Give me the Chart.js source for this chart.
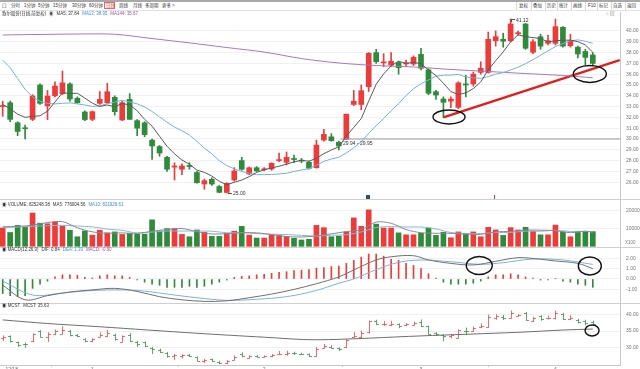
<!DOCTYPE html>
<html lang="zh-CN">
<head>
<meta charset="utf-8">
<title>歌尔股份 日线</title>
<script src="https://cdn.jsdelivr.net/npm/chart.js@4.4.1/dist/chart.umd.min.js"></script>
<style>
  body { margin: 0; width: 640px; height: 369px; overflow: hidden; background: #fff; position: relative;
         font-family: "Liberation Sans", "Noto Sans CJK SC", sans-serif; }
  canvas { position: absolute; left: 0; }
  .t { position: absolute; font-size: 6px; line-height: 7px; white-space: nowrap; color: #333;
       transform: scale(0.74); transform-origin: 0 0; }
  .t i { font-style: normal; margin-left: 4px; }
  .hr { position: absolute; left: 0; width: 640px; height: 1px; background: #d0d0d0; }
  .sep { position: absolute; top: 2px; width: 1px; height: 8px; background: #d8d8d8; }
</style>
</head>
<body>
<canvas id="cPrice" width="640" height="187" style="top:12px"></canvas>
<canvas id="cVol" width="640" height="48" style="top:199px"></canvas>
<canvas id="cMacd" width="640" height="56" style="top:247px"></canvas>
<canvas id="cMcst" width="640" height="74" style="top:303px"></canvas>

<div style="position:absolute;left:0;top:0;width:640px;height:2px;background:#a8a8a8"></div>
<div class="hr" style="top:10px;background:#e2e2e2"></div>
<div class="hr" style="top:199px"></div>
<div class="hr" style="top:247px"></div>
<div class="hr" style="top:303px"></div>

<!-- period toolbar -->
<span class="t" style="left:2px;top:3px">口</span>
<span class="t" style="left:11px;top:3px">分时</span>
<span class="t" style="left:24px;top:3px">1分钟</span>
<span class="t" style="left:38px;top:3px">5分钟</span>
<span class="t" style="left:53px;top:3px">15分钟</span>
<span class="t" style="left:72px;top:3px">30分钟</span>
<span class="t" style="left:89px;top:3px">60分钟</span>
<div style="position:absolute;left:104px;top:2px;width:11px;height:7px;border:1px solid #e66;box-sizing:border-box"></div>
<span class="t" style="left:105.5px;top:3px;color:#e33">日线</span>
<span class="t" style="left:119px;top:3px">周线</span>
<span class="t" style="left:133px;top:3px">月线</span>
<span class="t" style="left:145px;top:3px">多周期</span>
<span class="t" style="left:162px;top:3px">更多 &gt;</span>

<div class="sep" style="left:516px"></div><span class="t" style="left:519px;top:3px">复权</span>
<div class="sep" style="left:531px"></div><span class="t" style="left:533px;top:3px">叠加</span>
<div class="sep" style="left:545px"></div><span class="t" style="left:547px;top:3px">历史</span>
<div class="sep" style="left:557px"></div><span class="t" style="left:559px;top:3px">统计</span>
<div class="sep" style="left:571px"></div><span class="t" style="left:573px;top:3px">画线</span>
<div class="sep" style="left:585px"></div><span class="t" style="left:588px;top:3px">F10</span>
<div class="sep" style="left:597px"></div><span class="t" style="left:599px;top:3px">标记</span>
<div class="sep" style="left:611px"></div><span class="t" style="left:613px;top:3px">自选</span>
<div class="sep" style="left:625px"></div><span class="t" style="left:627px;top:3px">返回</span>

<!-- panel legends -->
<span class="t" style="left:2px;top:11px">歌尔股份(日线,前复权)<i style="color:#555">◉</i><i>MA5: 37.84</i><i style="color:#3d8fd1">MA13: 38.95</i><i style="color:#a050a8">MA144: 35.67</i></span>
<span class="t" style="left:606px;top:11px;color:#888">○ 回</span>

<span class="t" style="left:2px;top:202px">◉ VOLUME: 825248.38<i>MA5: 776004.56</i><i style="color:#3d8fd1">MA10: 821926.61</i></span>
<span class="t" style="left:625px;top:240px;color:#777">X100</span>

<span class="t" style="left:2px;top:247px">◉ MACD(12,26,9)<i>DIF: 0.84</i><i style="color:#3d8fd1">DEA: 1.39</i><i style="color:#a050a8">MACD: -0.90</i></span>

<span class="t" style="left:2px;top:303px">◉ MCST<i>MCST: 35.63</i></span>

<div style="position:absolute;left:366px;top:195px;width:4px;height:4px;background:#35506e"></div>
<div style="position:absolute;left:494px;top:195px;width:1px;height:4px;background:#e33"></div>

<script>
// ---- data ----
const opens = [33.0, 33.36, 31.5, 31.0, 31.82, 35.0, 33.06, 34.0, 34.2, 35.1,
  33.77, 32.5, 31.82, 33.3, 33.36, 33.86, 31.76, 33.67, 31.7, 31.5,
  29.9, 29.3, 28.3, 27.4, 27.2, 27.55, 26.9, 25.83, 26.27, 25.6,
  25.05, 26.2, 28.0, 26.76, 27.34, 27.15, 27.22, 28.0, 27.84, 28.2,
  28.0, 27.84, 27.34, 29.9, 30.2, 29.7, 29.97, 33.2, 33.2, 34.84,
  38.0, 37.05, 36.85, 37.07, 36.95, 36.94, 37.84, 36.4, 34.38, 33.7,
  33.5, 32.93, 35.1, 35.1, 36.17, 36.17, 39.1, 39.23, 39.1, 39.75,
  40.65, 38.03, 39.47, 38.86, 38.86, 40.34, 38.64, 38.5, 38.1, 37.78];
const highs = [33.5, 33.5, 31.6, 31.3, 34.1, 35.1, 34.5, 35.3, 36.3, 35.2,
  33.9, 32.6, 32.6, 34.4, 35.15, 34.0, 33.5, 34.2, 31.8, 31.6,
  30.0, 29.4, 28.4, 27.8, 27.7, 27.8, 27.0, 26.3, 26.4, 25.7,
  25.95, 27.35, 28.3, 27.4, 27.45, 27.35, 27.8, 28.7, 28.8, 28.5,
  28.2, 27.95, 29.9, 30.9, 30.5, 29.8, 32.3, 34.5, 35.0, 38.0,
  38.3, 37.9, 38.0, 37.2, 37.3, 37.7, 38.4, 36.5, 34.5, 33.9,
  33.9, 35.3, 35.9, 36.2, 37.15, 39.9, 40.0, 39.8, 41.12, 40.0,
  40.7, 39.2, 39.7, 39.6, 41.1, 40.4, 39.7, 38.6, 38.3, 38.0];
const lows = [32.1, 31.6, 30.3, 30.0, 31.7, 33.2, 31.8, 33.9, 34.1, 33.5,
  33.3, 31.7, 31.7, 33.2, 33.3, 32.2, 31.7, 31.8, 30.3, 30.2,
  28.1, 28.4, 27.0, 26.2, 26.7, 27.2, 25.9, 25.35, 25.7, 25.03,
  25.0, 26.1, 27.1, 26.7, 27.0, 27.05, 27.1, 27.9, 27.6, 27.8,
  27.8, 27.2, 27.3, 29.8, 29.8, 29.0, 29.95, 33.1, 32.7, 34.4,
  37.0, 36.7, 36.7, 36.0, 36.7, 36.8, 36.4, 34.1, 33.67, 32.0,
  32.9, 32.8, 33.9, 34.9, 36.0, 36.1, 38.6, 38.5, 39.0, 39.6,
  38.3, 37.9, 38.3, 38.7, 38.7, 38.5, 38.5, 37.5, 36.85, 36.8];
const closes = [33.05, 31.82, 30.7, 30.95, 33.98, 33.3, 33.98, 34.9, 35.2, 33.7,
  33.36, 31.8, 32.53, 33.67, 34.38, 32.53, 33.36, 31.82, 31.0, 30.4,
  29.35, 28.7, 27.2, 27.5, 27.5, 27.45, 25.95, 26.14, 25.83, 25.06,
  25.9, 27.04, 27.2, 27.34, 27.04, 27.2, 27.75, 28.05, 28.3, 28.1,
  27.95, 27.29, 29.44, 30.43, 29.84, 29.35, 32.3, 33.5, 34.47, 37.93,
  37.16, 37.1, 37.2, 36.6, 37.0, 37.56, 36.55, 34.23, 34.07, 33.4,
  33.7, 35.2, 35.0, 36.0, 36.55, 39.23, 39.47, 39.05, 40.65, 39.85,
  38.4, 39.0, 38.6, 39.1, 40.4, 38.6, 39.1, 37.87, 37.56, 37.0];

const ma5 = [33.2, 32.8, 32.3, 32.0, 32.1, 32.15, 32.58, 33.42, 34.27, 34.22,
  34.23, 33.79, 33.32, 33.01, 33.15, 32.98, 33.29, 33.15, 32.62, 31.82,
  31.19, 30.25, 29.33, 28.63, 28.05, 27.67, 27.12, 26.91, 26.57, 26.08,
  25.77, 25.99, 26.2, 26.51, 26.9, 27.16, 27.31, 27.48, 27.67, 27.88,
  28.03, 27.94, 28.22, 28.64, 28.99, 29.27, 30.27, 31.08, 31.89, 33.51,
  35.07, 36.03, 36.77, 37.2, 37.01, 37.09, 36.98, 36.39, 35.88, 35.16,
  34.39, 34.12, 34.27, 34.66, 35.29, 36.4, 37.25, 38.06, 38.99, 39.65,
  39.48, 39.39, 39.3, 38.99, 39.1, 39.14, 39.16, 39.01, 38.71, 38.03];
const ma13 = [37.3, 36.6, 35.6, 34.6, 33.9, 33.5, 33.3, 33.25, 33.3, 33.35,
  33.25, 33.15, 33.02, 33.07, 33.27, 33.41, 33.59, 33.43, 33.25, 32.97,
  32.55, 32.05, 31.55, 31.1, 30.76, 30.37, 29.78, 29.15, 28.63, 27.99,
  27.54, 27.23, 26.99, 26.83, 26.7, 26.7, 26.72, 26.76, 26.83, 27.0,
  27.13, 27.25, 27.58, 27.93, 28.15, 28.31, 28.7, 29.19, 29.75, 30.53,
  31.24, 31.91, 32.61, 33.28, 34.02, 34.65, 35.12, 35.46, 35.82, 35.91,
  35.92, 35.98, 35.75, 35.66, 35.62, 35.78, 36.0, 36.15, 36.39, 36.65,
  36.97, 37.35, 37.75, 38.16, 38.56, 38.84, 39.08, 39.18, 39.05, 38.86];
const ma144 = [[0, 39.63], [5, 39.68], [10, 39.72], [15, 39.7], [20, 39.3], [25, 38.9],
  [30, 38.47], [35, 38.05], [40, 37.45], [45, 37.04], [50, 36.8], [55, 36.67],
  [60, 36.44], [65, 36.25], [70, 36.06], [75, 35.88], [79, 35.67]];

// volume in x100 shares
const volumes = [10270, 7760, 11750, 10650, 18690, 13000, 12670, 13550, 11370, 9020,
  5360, 8630, 6280, 9020, 7540, 8090, 6670, 7210, 6830, 6830,
  14860, 8630, 9950, 9950, 6670, 5360, 9180, 7920, 5570, 5570,
  7210, 8470, 11200, 6280, 4640, 4640, 6280, 6280, 5570, 4480,
  3550, 3930, 11750, 10490, 5360, 5740, 8090, 15960, 11200, 20490,
  12460, 10270, 10270, 7540, 6450, 6450, 7380, 10270, 6120, 7920,
  4810, 8090, 7210, 8090, 5360, 10650, 9180, 6120, 10490, 9180,
  10650, 8470, 6450, 6450, 11910, 8090, 5360, 8470, 8470, 8250];
const volMa5 = [[0, 11000], [2, 11200], [4, 11824], [6, 13352], [8, 13856], [10, 10394],
  [12, 8132], [14, 7366], [16, 7520], [18, 7268], [20, 8480], [22, 9420], [24, 10012],
  [26, 8222], [28, 6940], [30, 7090], [32, 7604], [34, 7560], [36, 6608], [38, 5482],
  [40, 5232], [42, 5856], [44, 7016], [46, 8286], [48, 9270], [50, 13640], [52, 12938],
  [54, 9398], [56, 7618], [58, 7334], [60, 7300], [62, 6830], [64, 6712], [66, 8098],
  [68, 8360], [70, 9124], [72, 9048], [74, 8786], [76, 7652], [78, 8460], [79, 7760]];
const volMa10 = [[0, 10500], [4, 11200], [8, 11800], [10, 11382], [12, 10922], [14, 9644],
  [16, 8957], [18, 7465], [20, 8000], [22, 8563], [24, 8569], [26, 8547], [28, 8492],
  [30, 7601], [32, 7710], [34, 7140], [36, 6778], [38, 6614], [40, 6139], [42, 5740],
  [44, 6233], [46, 6524], [48, 8055], [50, 10547], [52, 11033], [54, 10847], [56, 10847],
  [58, 9770], [60, 7748], [62, 7224], [64, 7170], [66, 7770], [68, 7792], [70, 8502],
  [72, 8464], [74, 8955], [76, 8317], [78, 8350], [79, 8219]];

const macdHist = [-1.4, -1.6, -1.7, -1.6, -0.9, -0.5, -0.2, 0.2, 0.4, 0.4,
  0.35, 0.15, 0.1, 0.3, 0.4, 0.3, 0.3, 0.15, -0.1, -0.3,
  -0.5, -0.6, -0.8, -0.8, -0.8, -0.7, -0.8, -0.7, -0.5, -0.3,
  -0.1, 0.15, 0.25, 0.3, 0.4, 0.45, 0.55, 0.65, 0.7, 0.8,
  0.85, 0.9, 1.05, 1.1, 1.2, 1.25, 1.5, 1.8, 2.1, 2.4,
  2.4, 2.2, 1.9, 1.8, 1.5, 1.3, 1.0, 0.5, 0.1, -0.3,
  -0.5, -0.5, -0.5, -0.4, -0.2, 0.2, 0.4, 0.4, 0.5, 0.4,
  0.2, 0.1, -0.1, -0.1, 0.05, -0.2, -0.3, -0.5, -0.6, -0.8];
const dif = [[0, -0.6], [3, -2.0], [6, -1.6], [9, -1.25], [12, -1.05], [15, -0.9], [18, -1.2],
  [21, -1.7], [24, -2.0], [27, -2.15], [30, -2.1], [33, -1.8], [36, -1.45], [39, -1.0],
  [42, -0.45], [45, 0.2], [47, 0.87], [50, 1.83], [52, 2.14], [55, 2.24], [57, 1.83],
  [60, 1.5], [63, 1.35], [66, 1.7], [69, 2.05], [72, 1.9], [74, 1.73], [77, 1.5], [79, 1.0]];
const dea = [[0, -0.2], [4, -1.54], [8, -1.35], [11, -1.15], [14, -1.06], [18, -1.1], [22, -1.45],
  [26, -1.8], [30, -2.05], [34, -1.95], [38, -1.7], [42, -1.1], [45, -0.4], [47, 0.0],
  [50, 0.9], [53, 1.6], [56, 1.83], [60, 1.66], [64, 1.41], [67, 1.57], [71, 1.92],
  [75, 1.83], [79, 1.4]];

const mcst = [[0, 38.4], [6, 37.3], [13, 36.3], [26, 34.3], [35, 33.1], [42, 32.3],
  [56, 33.5], [69, 34.6], [75, 35.3], [79, 35.6]];

const priceTicks = [40, 39, 38, 37, 36, 35, 34, 33, 32, 31, 30, 29, 28, 27, 26];
const volTicks = [20000, 10000];
const macdTicks = [2, 1, 0, -1];
const mcstTicks = [40, 35, 30];
const monthTicks = [1.2, 12, 35, 56, 74];
const monthLabels = ['12/18', '1', '2', '3', '4'];

// ---- drawing ----
const RED = '#ec3b3b';
const GREEN = '#2f8a3c';
const X_MIN = -0.36, X_MAX = 82.64;

Chart.defaults.font.family = '"Liberation Sans", "Noto Sans CJK SC", sans-serif';

const series = arr => arr.map((y, x) => ({ x, y }));
const pts = arr => arr.map(([x, y]) => ({ x, y }));
const idx = closes.map((_, i) => i);
const candleCol = idx.map(i => closes[i] >= opens[i] ? RED : GREEN);

function line(data, color, width, extra) {
  return Object.assign({ type: 'line', data, borderColor: color, borderWidth: width || 1,
    pointRadius: 0, fill: false, tension: 0, order: 0 }, extra || {});
}

function ellipses(list) {
  return {
    id: 'ellipses',
    afterDatasetsDraw(chart) {
      const { ctx, scales: { x, y } } = chart;
      ctx.save();
      ctx.strokeStyle = '#111';
      ctx.lineWidth = 1.4;
      list.forEach(e => {
        ctx.beginPath();
        ctx.ellipse(x.getPixelForValue(e.x), y.getPixelForValue(e.y), e.rx, e.ry, 0, 0, Math.PI * 2);
        ctx.stroke();
      });
      ctx.restore();
    }
  };
}

function yAxis(min, max, ticks, fmt) {
  return {
    position: 'right', min, max,
    afterBuildTicks: s => { s.ticks = ticks.map(v => ({ value: v })); },
    afterFit: s => { s.width = 20; s.paddingTop = 0; s.paddingBottom = 0; },
    border: { display: true, color: '#c8c8c8' },
    grid: { color: '#f1f1f1', drawTicks: false },
    ticks: { padding: 6, color: '#777', font: { size: 5 }, callback: fmt }
  };
}

const hiddenX = { type: 'linear', display: false, min: X_MIN, max: X_MAX, offset: false };

function panel(id, datasets, y, plugins, x) {
  return new Chart(document.getElementById(id), {
    type: 'bar',
    data: { datasets },
    plugins: plugins || [],
    options: {
      responsive: false, animation: false, events: [],
      layout: { padding: 0 },
      plugins: { legend: { display: false }, tooltip: { enabled: false } },
      scales: { x: x || hiddenX, y }
    }
  });
}

// price annotations: extremes, gap note
const priceNotes = {
  id: 'priceNotes',
  afterDatasetsDraw(chart) {
    const { ctx, scales: { x, y } } = chart;
    ctx.save();
    ctx.font = '5px "Liberation Sans"';
    ctx.fillStyle = '#333';
    ctx.strokeStyle = '#555';
    ctx.lineWidth = 1;
    ctx.textBaseline = 'middle';
    const hi = highs.indexOf(Math.max(...highs));
    const lo = lows.indexOf(Math.min(...lows));
    let px = Math.round(x.getPixelForValue(hi)), py = Math.round(y.getPixelForValue(highs[hi]));
    ctx.beginPath();
    ctx.moveTo(px + 1, py + 0.5); ctx.lineTo(px + 4, py + 0.5);
    ctx.moveTo(px + 0.5, py); ctx.lineTo(px + 0.5, py + 3);
    ctx.stroke();
    ctx.fillText(highs[hi].toFixed(2), px + 5, py + 1.5);
    px = Math.round(x.getPixelForValue(lo)); py = Math.round(y.getPixelForValue(lows[lo]));
    ctx.beginPath();
    ctx.moveTo(px + 1, py + 0.5); ctx.lineTo(px + 5, py + 0.5);
    ctx.stroke();
    ctx.fillText(lows[lo].toFixed(2), px + 6, py + 0.5);
    ctx.fillText('29.94 - 29.95', x.getPixelForValue(45.3) + 2, y.getPixelForValue(29.58));
    ctx.restore();
  }
};

panel('cPrice', [
  { type: 'bar', data: idx.map(i => ({ x: i, y: [lows[i], highs[i]] })), backgroundColor: candleCol,
    barThickness: 1, grouped: false, order: 2 },
  { type: 'bar', data: idx.map(i => ({ x: i, y: [opens[i], closes[i]] })), backgroundColor: candleCol,
    barThickness: 5, minBarLength: 1, grouped: false, order: 1 },
  line(series(ma5), '#5a5a5a', 1),
  line(series(ma13), '#78b0de', 1),
  line(pts(ma144), '#a878b8', 1, { tension: 0.3 }),
  line([{ x: 45.2, y: 30.0 }, { x: X_MAX, y: 30.0 }], '#9a9a9a', 1),
  line([{ x: 59, y: 32.0 }, { x: 82.6, y: 37.3 }], '#e01e1e', 2.5)
], yAxis(24.444, 41.759, priceTicks, v => v.toFixed(2)),
  [priceNotes, ellipses([{ x: 59.75, y: 32.04, rx: 16, ry: 7 }, { x: 78.6, y: 36.02, rx: 16.5, ry: 8.5 }])]);

panel('cVol', [
  { type: 'bar', data: idx.map(i => ({ x: i, y: volumes[i] })), backgroundColor: candleCol,
    barThickness: 5, grouped: false, order: 1 },
  line(pts(volMa5), '#8a8a8a', 1, { tension: 0.3 }),
  line(pts(volMa10), '#86b6e0', 1, { tension: 0.3 })
], yAxis(-393, 26573, volTicks, v => String(v)));

panel('cMacd', [
  { type: 'bar', data: idx.map(i => ({ x: i, y: macdHist[i] })),
    backgroundColor: macdHist.map(v => v >= 0 ? RED : GREEN), barThickness: 1, grouped: false, order: 1 },
  line(pts(dif), '#707070', 1, { tension: 0.35 }),
  line(pts(dea), '#7fb0de', 1, { tension: 0.35 })
], yAxis(-2.308, 3.077, macdTicks, v => v.toFixed(2)),
  [ellipses([{ x: 63.8, y: 1.3, rx: 13, ry: 9 }, { x: 78.6, y: 1.25, rx: 11.5, ry: 9 }])]);

// tiny OHLC bars of the MCST panel
const ohlcBars = {
  id: 'ohlcBars',
  afterDatasetsDraw(chart) {
    const { ctx, scales: { x, y } } = chart;
    ctx.save();
    ctx.lineWidth = 1;
    ctx.globalAlpha = 0.75;
    idx.forEach(i => {
      const px = Math.round(x.getPixelForValue(i)) + 0.5;
      ctx.strokeStyle = candleCol[i];
      ctx.beginPath();
      ctx.moveTo(px, y.getPixelForValue(highs[i]) - 0.5);
      ctx.lineTo(px, y.getPixelForValue(lows[i]) + 0.5);
      const yo = Math.round(y.getPixelForValue(opens[i])) + 0.5;
      const yc = Math.round(y.getPixelForValue(closes[i])) + 0.5;
      ctx.moveTo(px - 2.5, yo); ctx.lineTo(px, yo);
      ctx.moveTo(px, yc); ctx.lineTo(px + 2.5, yc);
      ctx.stroke();
    });
    ctx.restore();
  }
};

panel('cMcst', [
  line(pts(mcst), '#6e6e6e', 1, { tension: 0.3 })
], yAxis(24.57, 43.59, mcstTicks, v => v.toFixed(2)),
  [ohlcBars, ellipses([{ x: 78.9, y: 35.15, rx: 7, ry: 5.5 }])],
  {
    type: 'linear', min: X_MIN, max: X_MAX, offset: false, position: 'bottom',
    border: { display: true, color: '#c8c8c8' },
    grid: { display: true, drawOnChartArea: false, drawTicks: true, tickLength: 2, color: '#c8c8c8' },
    ticks: { autoSkip: false, maxRotation: 0, padding: 0, color: '#666', font: { size: 5 },
      callback: v => { const k = monthTicks.indexOf(v); return k < 0 ? '' : monthLabels[k]; } },
    afterBuildTicks: s => { s.ticks = monthTicks.map(v => ({ value: v })); },
    afterFit: s => { s.height = 12; s.paddingLeft = 0; s.paddingRight = 0; }
  });
</script>
</body>
</html>
